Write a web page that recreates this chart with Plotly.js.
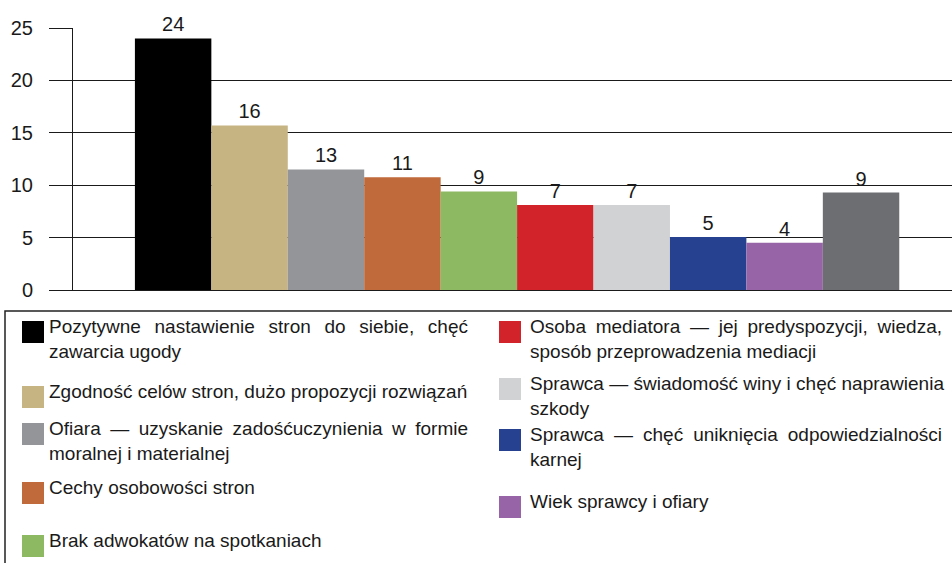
<!DOCTYPE html>
<html>
<head>
<meta charset="utf-8">
<script src="https://cdn.plot.ly/plotly-3.0.1.min.js"></script>
<style>html,body{margin:0;padding:0;background:#fff;}#chart{width:952px;height:563px;}</style>
</head>
<body>
<div id="chart"></div>
<script>
// ---- data ----
const barNumber = [1, 2, 3, 4, 5, 6, 7, 8, 9, 10];
const barHeights = [24.0, 15.7, 11.5, 10.75, 9.4, 8.1, 8.1, 5.05, 4.5, 9.3];
const barLabels = ['24', '16', '13', '11', '9', '7', '7', '5', '4', '9'];
const barColors = ['#000000', '#c6b482', '#939598', '#c0693a', '#8db962', '#d3232a', '#d1d2d4', '#26418f', '#9864a8', '#6d6e71'];
const legendLines = [
  ['Pozytywne nastawienie stron do siebie, chęć', 'zawarcia ugody'],
  ['Zgodność celów stron, dużo propozycji rozwiązań'],
  ['Ofiara — uzyskanie zadośćuczynienia w formie', 'moralnej i materialnej'],
  ['Cechy osobowości stron'],
  ['Brak adwokatów na spotkaniach'],
  ['Osoba mediatora — jej predyspozycji, wiedza,', 'sposób przeprowadzenia mediacji'],
  ['Sprawca — świadomość winy i chęć naprawienia', 'szkody'],
  ['Sprawca — chęć uniknięcia odpowiedzialności', 'karnej'],
  ['Wiek sprawcy i ofiary']
];
const yTicks = [0, 5, 10, 15, 20, 25];

// ---- layout constants (pixels) ----
const W = 952, H = 563;
const M = {l: 73, r: 0, t: 28, b: 273};
const plotW = W - M.l - M.r, plotH = H - M.t - M.b;
const px2x = px => (px - M.l) / plotW;
const py2y = py => (H - M.b - py) / plotH;
// legend columns: square left, text left, text right edge, first-line centre y per item
const legendCols = [
  {sq: 22, tx: 50, right: 469, rows: [328, 393, 430, 489, 542]},
  {sq: 499, tx: 531, right: 943, rows: [328, 385, 436, 503]}
];
const FONT = '"Liberation Sans", Arial, Helvetica, sans-serif';
const legendFontSize = 19;

const ctx = document.createElement('canvas').getContext('2d');
ctx.font = legendFontSize + 'px "Liberation Sans"';
function justify(line, width) {
  const gaps = (line.match(/ /g) || []).length;
  if (!gaps) return line;
  const natural = ctx.measureText(line).width;
  const ws = Math.max(0, (width - natural) / gaps);
  return '<span style="word-spacing:' + ws.toFixed(2) + 'px">' + line + '</span>';
}

const shapes = [{
  type: 'rect', xref: 'paper', yref: 'paper',
  x0: px2x(5), x1: px2x(1000), y0: py2y(311), y1: py2y(620),
  line: {color: '#222', width: 1.5}, fillcolor: 'rgba(0,0,0,0)'
}];
const annotations = [];
let k = 0;
legendCols.forEach(col => {
  col.rows.forEach(cy => {
    const lines = legendLines[k];
    const width = col.right - col.tx;
    const txt = lines.map((ln, i) => (i < lines.length - 1) ? justify(ln, width) : ln).join('<br>');
    shapes.push({
      type: 'rect', xref: 'paper', yref: 'paper',
      x0: px2x(col.sq), x1: px2x(col.sq + 22), y0: py2y(cy - 7), y1: py2y(cy + 15),
      line: {width: 0}, fillcolor: barColors[k]
    });
    annotations.push({
      xref: 'paper', yref: 'paper', x: px2x(col.tx - 3), y: py2y(cy - 14),
      xanchor: 'left', yanchor: 'top', align: 'left', showarrow: false,
      text: txt, font: {family: FONT, size: legendFontSize, color: '#1a1a1a'}
    });
    k++;
  });
});

const trace = {
  type: 'bar', x: barNumber, y: barHeights, width: 1,
  marker: {color: barColors, line: {width: 0}},
  text: barLabels, textposition: 'outside', cliponaxis: false,
  textfont: {family: FONT, size: 20, color: '#1a1a1a'},
  hoverinfo: 'none', showlegend: false
};

const layout = {
  width: W, height: H, margin: M,
  paper_bgcolor: '#fff', plot_bgcolor: '#fff',
  showlegend: false,
  font: {family: FONT, color: '#1a1a1a'},
  xaxis: {
    range: [-0.31, 11.19], showticklabels: false, ticks: '', showgrid: false,
    zeroline: false, showline: true, linecolor: '#1a1a1a', linewidth: 1, fixedrange: true
  },
  yaxis: {
    range: [0, 25], tickvals: yTicks, ticktext: yTicks.map(String),
    showgrid: true, gridcolor: '#1a1a1a', gridwidth: 1,
    zeroline: false, showline: true, linecolor: '#1a1a1a', linewidth: 1,
    ticks: 'outside', ticklen: 23, tickcolor: '#1a1a1a', tickwidth: 1,
    ticklabelstandoff: 12,
    tickfont: {family: FONT, size: 20, color: '#1a1a1a'}, fixedrange: true
  },
  shapes: shapes,
  annotations: annotations
};

Plotly.newPlot('chart', [trace], layout, {displayModeBar: false, staticPlot: true});
</script>
</body>
</html>
